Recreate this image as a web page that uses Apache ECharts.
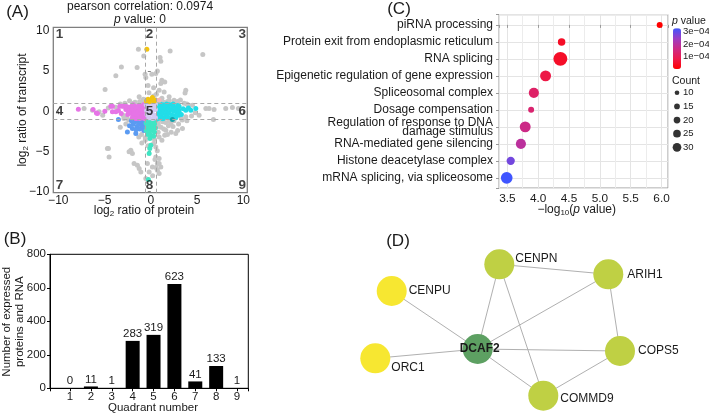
<!DOCTYPE html>
<html><head><meta charset="utf-8">
<script src="https://cdn.jsdelivr.net/npm/echarts@6/dist/echarts.min.js"></script>
<style>html,body{margin:0;padding:0;background:#fff}#c{width:709px;height:415px}</style>
</head><body><div id="c"></div>
<script>
// ---------- Panel A: log2 protein vs log2 transcript ----------
const greyPts = [[-1.34,7.7],[2.09,7.49],[5.62,7.04],[-0.76,6.87],[1.0,6.67],[1.08,6.2],[-3.18,5.5],[-1.48,5.43],[-3.78,4.4],[-0.62,4.6],[-0.54,4.2],[0.11,4.6],[0.71,5.0],[1.19,3.85],[1.08,3.44],[-4.94,2.69],[1.44,2.4],[3.7,2.27],[-1.26,1.78],[0.9,2.6],[1.98,1.78],[0.54,4.68],[1.51,3.64],[3.78,2.6],[2.52,1.37],[-0.3,3.2],[0.3,2.9],[-0.2,2.3],[0.6,2.1],[1.2,1.6],[-0.8,1.5],[-2.3,1.3],[-1.7,1.1],[2.9,1.2],[1.8,1.2],[0.3,1.9],
[-7.21,0.33],[-6.31,0.12],[-5.59,-0.08],[4.5,0.75],[5.95,0.33],[6.84,0.21],[8.82,0.46],[6.3,0.33],[8.1,0.33],[9.47,0.33],[6.77,-1.03],[5.22,-0.5],[3.78,-0.7],[4.8,-0.2],[3.9,0.9],[3.3,-0.9],[-2.6,-0.8],[-3.0,-0.5],[-4.6,0.4],[-5.2,-0.5],
[3.42,-2.15],[2.7,-2.77],[2.16,-1.53],[1.62,-2.36],[0.9,-3.19],[0.54,-5.68],[0.71,-6.5],[1.08,-6.92],[0.9,-7.74],[0.54,-4.43],[0.9,-5.88],[-0.54,-8.36],[-4.51,-5.68],[-2.16,-5.05],[-1.81,-6.5],[-1.26,-7.12],[-4.69,-4.63],[-2.35,-5.05],[-1.45,-6.7],[-1.08,-7.54],[-0.97,-3.94],[-2.16,-4.84],[-1.99,-5.26],[-4.58,-4.64],[0.17,-6.92],[0.71,-7.33],[0.9,-6.5],[-0.18,-7.54],[-0.37,-6.5],[1.3,-1.3],[1.9,-1.8],[2.5,-1.2],[1.1,-2.0],[0.8,-1.5],[3.0,-1.6],[1.5,-3.0],[2.2,-2.6],[0.3,-4.0],[-0.3,-4.3],[0.4,-3.5],[-2.7,-1.6],[-3.3,-2.0],[-1.0,-2.9],[-0.6,-3.3],[-2.9,-0.9],[0.2,-8.0],
[0.6,1.1],[1.0,1.4],[1.4,1.1],[2.0,1.3],[2.6,1.1],[3.2,1.4],[3.6,1.0],[4.0,0.8],[4.4,-0.6],[3.9,-1.2],[3.4,-1.1],[2.0,-1.2],[1.6,-1.4],[1.2,-1.1],[0.9,-1.9],[1.4,-2.2],[2.4,-1.9],[2.9,-2.4],[1.8,-2.9],[1.2,-3.6],[0.8,-2.6],[-1.9,1.0],[-1.2,1.2],[-0.7,1.2],[-2.8,1.0],[-3.3,0.9],[-3.8,0.5],[-2.4,-1.1],[-0.6,-3.6],[-1.3,-3.2],[0.7,-4.9],[0.45,-6.0],[0.55,-7.0]];
const q4Pts = [[-7.83,0.25],[-6.24,0.21],[-5.88,-0.21],[-5.77,-0.29],[-4.97,0],[-4.32,0.62],[-4.15,-0.08],[-3.35,0.62],[-2.89,0.62],[-3.78,-0.08],[-4.15,0.62],[-3.07,0.62],[-3.5,0.1],[-3.2,-0.3],[-2.7,0.2],[-2.5,-0.4],[-2.6,0.6],
[-2.3,0.5],[-2.2,0.1],[-2.1,-0.3],[-2.0,0.7],[-1.9,0.3],[-1.9,-0.6],[-1.8,0.0],[-1.7,0.6],[-1.7,-0.3],[-1.6,0.2],[-1.5,-0.7],[-1.5,0.5],[-1.4,-0.1],[-1.3,0.7],[-1.3,-0.5],[-1.2,0.3],[-1.1,-0.2],[-1.1,0.6],[-1.0,-0.8],[-1.0,0.1],[-0.9,0.5],[-0.9,-0.4],[-0.8,0.8],[-0.8,0.0],[-0.75,-0.6],[-0.7,0.3],[-1.6,-0.9],[-2.0,-0.8],[-1.2,-0.9],[-0.7,-0.9],[-1.9,0.8],[-2.4,-0.1]];
const q6Pts = [[0.7,0.8],[0.7,0.2],[0.75,-0.5],[0.8,-0.9],[0.9,0.5],[0.9,-0.2],[1.0,0.9],[1.0,0.0],[1.1,-0.7],[1.2,0.4],[1.2,-0.3],[1.3,0.8],[1.4,0.1],[1.4,-0.8],[1.5,0.5],[1.6,-0.4],[1.7,0.9],[1.7,0.0],[1.8,-0.7],[1.9,0.4],[2.0,-0.2],[2.0,0.8],[2.1,-0.8],[2.2,0.2],[2.3,-0.5],[2.4,0.6],[2.5,0.0],[2.6,-0.6],[2.7,0.4],[2.8,-0.1],[2.9,0.7],[3.0,-0.5],[3.0,0.2],[1.3,-0.95],[0.9,0.95],[2.4,0.9],[1.6,0.7],[2.7,-0.8],
[3.06,-0.08],[3.78,0.12],[3.06,0.62],[4.07,0.41],[4.86,0.33],[4.32,0.12],[3.5,0.3],[3.3,-0.4]];
const q7Pts = [[-3.5,-1.03],[-2.53,-2.57],[-1.99,-2.15],[-1.62,-2.77],[-2.1,-1.2],[-1.9,-1.6],[-1.7,-1.3],[-1.5,-1.9],[-1.4,-1.2],[-1.3,-1.6],[-1.2,-2.2],[-1.1,-1.4],[-1.0,-1.8],[-0.9,-1.2],[-0.8,-2.0],[-0.7,-1.5],[-1.6,-2.3],[-2.3,-1.8],[-0.75,-2.4]];
const q8Pts = [[-0.5,-1.1],[-0.3,-1.2],[0.0,-1.1],[0.3,-1.2],[0.5,-1.1],[-0.5,-1.5],[-0.2,-1.6],[0.1,-1.5],[0.4,-1.6],[-0.4,-2.0],[-0.1,-2.0],[0.2,-1.9],[0.5,-2.1],[-0.5,-2.4],[-0.2,-2.5],[0.1,-2.4],[0.4,-2.6],[-0.3,-2.9],[0.0,-3.0],[0.3,-3.1],[-0.1,-3.4],[0.0,-4.22],[-0.11,-4.64],[-0.18,-5.26],[-0.26,-8.49]];
const q2Pts = [[-0.43,7.7],[-0.47,1.28],[0.17,1.7],[0.54,1.37],[-0.18,1.16],[0.3,1.2],[0.1,1.4],[-0.3,1.5]];
const q3Pts = [[0.9,1.37]];
const q9Pts = [[2.34,-1.03]];
const q5Pts = [[-0.5,0.8],[-0.3,0.5],[0,0.8],[0.3,0.6],[0.5,0.9],[-0.45,0.1],[-0.1,0.2],[0.2,0.1],[0.5,0.2],[-0.4,-0.4],[0.0,-0.3],[0.4,-0.5],[-0.2,-0.8],[0.2,-0.9],[0.5,-0.8]];
const quadNames = ['1','2','3','4','5','6','7','8','9'];
const cutX = [-0.58, 0.58];
const cutY = [-1, 1];

// ---------- Panel B: counts per quadrant ----------
const quadrants = [1,2,3,4,5,6,7,8,9];
const quadCounts = [0,11,1,283,319,623,41,133,1];

// ---------- Panel C: enrichment ----------
const goTerms = ['piRNA processing','Protein exit from endoplasmic reticulum','RNA splicing','Epigenetic regulation of gene expression','Spliceosomal complex','Dosage compensation','Regulation of response to DNA\ndamage stimulus','RNA-mediated gene silencing','Histone deacetylase complex','mRNA splicing, via spliceosome'];
const goNegLog10P = [5.97,4.38,4.36,4.12,3.93,3.886,3.79,3.72,3.555,3.49];
const goCounts = [11,15,32,24,22,11,24,22,17,26];
const countBreaks = [10,15,20,25,30];
const minorGridX = [3.75,4.25,4.75,5.25,5.75];

// ---------- Panel D: network ----------
const netNodes = [
  {name:'CENPN', x:499.3, y:264.3, role:'partner'},
  {name:'ARIH1', x:608.3, y:274.3, role:'partner'},
  {name:'CENPU', x:391.7, y:291.0, role:'other'},
  {name:'DCAF2', x:477.7, y:349.0, role:'hub'},
  {name:'ORC1',  x:375.3, y:358.3, role:'other'},
  {name:'COPS5', x:620.0, y:351.0, role:'partner'},
  {name:'COMMD9',x:543.3, y:395.7, role:'partner'}
];
const netEdges = [['DCAF2','CENPU'],['DCAF2','ORC1'],['DCAF2','CENPN'],['DCAF2','ARIH1'],['DCAF2','COPS5'],['DCAF2','COMMD9'],['CENPN','ARIH1'],['CENPN','COMMD9'],['ARIH1','COPS5'],['COPS5','COMMD9']];

// ---------- build ----------
const FF = "'Liberation Sans', Arial, Helvetica, sans-serif";
const TXT = '#1a1a1a';
const chart = echarts.init(document.getElementById('c'), null, {renderer:'canvas'});
const minus = s => String(s).replace('-', '\u2212');

const pValues = goNegLog10P.map(v => Math.pow(10, -v));
const pMin = Math.min(...pValues), pMax = Math.max(...pValues);
const dotSize = c => 1.8 + 0.38 * c;
const legendSize = c => 2.7 + 0.2 * c;

const scat = (data, color, extra) => Object.assign({
  type:'scatter', xAxisIndex:0, yAxisIndex:0, data, symbolSize:5,
  itemStyle:{color, opacity:1}, silent:true, animation:false
}, extra || {});

const colX = [-9.88, -0.15, 9.88], rowY = [9.5, 0, -9.25];
const quadLabelData = quadNames.map((n,i) => ({name:n, value:[colX[i%3], rowY[Math.floor(i/3)]]}));

const roleColor = {partner:'#BFD044', other:'#F7E731', hub:'#5DA062'};
const labelCfg = {
  CENPN:{distance:1, offset:[0,-6]},
  ARIH1:{distance:4},
  CENPU:{distance:2},
  COPS5:{distance:3},
  COMMD9:{distance:2, offset:[0,3]},
  ORC1:{distance:1, offset:[0,9]},
  DCAF2:{position:'inside', fontWeight:'bold', offset:[2,0]}
};

const sub = {fontSize:8, lineHeight:8, verticalAlign:'bottom', fontFamily:FF, fill:TXT};
function gtext(x, y, text, size, opt) {
  opt = opt || {};
  const base = {fontSize:size, lineHeight:size+2, fontFamily:FF, fill:TXT};
  return {type:'text', x, y, rotation:opt.rotation||0, z:100, silent:true,
    style:Object.assign({text, fontSize:size, fontFamily:FF, fill:TXT, align:opt.align||'center', verticalAlign:'middle', lineHeight:opt.lineHeight||size+2,
      rich:{a:base, i:Object.assign({}, base, {fontStyle:'italic'}), s:Object.assign({}, sub, {fontSize:Math.round(size*0.7)})}}, opt.style||{})};
}

const intLabel = v => Math.abs(v - Math.round(v)) < 1e-9 ? String(Math.round(v)) : '';
const fiveLabel = v => (Math.abs(v/5 - Math.round(v/5)) < 1e-9) ? minus(Math.round(v)) : '';

const option = {
  animation:false,
  backgroundColor:'#fff',
  textStyle:{fontFamily:FF},
  grid:[
    {left:53.3, top:27.3, width:194, height:165.4, show:true, borderColor:'#7f7f7f', borderWidth:1.3, backgroundColor:'transparent', outerBoundsMode:'none', containLabel:false},
    {left:50, top:254.3, width:198.3, height:134, show:true, borderColor:'#000', borderWidth:1, outerBoundsMode:'none', containLabel:false},
    {left:499, top:14.7, width:169, height:173.3, show:true, borderColor:'#9a9a9a', borderWidth:1, outerBoundsMode:'none', containLabel:false},
    {left:673, top:28.3, width:8, height:40.7, outerBoundsMode:'none', containLabel:false},
    {left:672, top:85.9, width:10, height:68.25, outerBoundsMode:'none', containLabel:false}
  ],
  xAxis:[
    {gridIndex:0, type:'value', min:-10.54, max:10.43, minInterval:5, maxInterval:5, splitLine:{show:false}, axisLine:{show:false},
     axisTick:{show:true, length:3, lineStyle:{color:'#7f7f7f'}}, axisLabel:{fontSize:12, color:TXT, margin:2, formatter:fiveLabel, showMinLabel:true, showMaxLabel:true}},
    {gridIndex:1, type:'value', min:0.04, max:9.54, minInterval:1, maxInterval:1, splitLine:{show:false}, axisLine:{show:true, lineStyle:{color:'#000'}},
     axisTick:{show:true, length:3, lineStyle:{color:'#000'}}, axisLabel:{fontSize:11.5, color:TXT, margin:3, formatter:intLabel}},
    {gridIndex:2, type:'value', min:3.365, max:6.105, minInterval:0.5, maxInterval:0.5, splitLine:{show:true, lineStyle:{color:'#e4e4e4', width:1}}, axisLine:{show:false},
     axisTick:{show:true, length:3, lineStyle:{color:'#9a9a9a'}}, axisLabel:{fontSize:11.8, color:TXT, margin:5,
       formatter:v => Math.abs(v*2 - Math.round(v*2)) < 1e-9 ? v.toFixed(1) : ''}},
    {gridIndex:3, type:'value', min:0, max:1, show:false},
    {gridIndex:4, type:'value', min:-1, max:1, show:false}
  ],
  yAxis:[
    {gridIndex:0, type:'value', min:-10.12, max:10.42, minInterval:5, maxInterval:5, splitLine:{show:false}, axisLine:{show:false},
     axisTick:{show:true, length:3, lineStyle:{color:'#7f7f7f'}}, axisLabel:{fontSize:12, color:TXT, margin:4, formatter:fiveLabel}},
    {gridIndex:1, type:'value', min:0, max:800, interval:200, splitLine:{show:false}, axisLine:{show:true, lineStyle:{color:'#000'}},
     axisTick:{show:true, length:3, lineStyle:{color:'#000'}}, axisLabel:{fontSize:11.5, color:TXT, margin:4}},
    {gridIndex:2, type:'value', min:-0.6, max:9.6, inverse:true, minInterval:1, maxInterval:1, splitLine:{show:true, lineStyle:{color:'#e4e4e4', width:1}}, axisLine:{show:false},
     axisTick:{show:true, length:3, lineStyle:{color:'#9a9a9a'}},
     axisLabel:{fontSize:12, color:TXT, margin:6, lineHeight:9, align:'right',
       formatter:v => (Math.abs(v - Math.round(v)) < 1e-9 && goTerms[Math.round(v)]) ? goTerms[Math.round(v)] : ''}},
    {gridIndex:3, type:'value', position:'right', min:pMin, max:pMax, minInterval:1e-4, maxInterval:1e-4, splitLine:{show:false}, axisLine:{show:false}, axisTick:{show:false},
     axisLabel:{fontSize:9.5, color:TXT, margin:2, formatter:v => { const k = Math.round(v*1e4); return (k>0 && Math.abs(v*1e4 - k) < 1e-6) ? k + 'e\u221204' : ''; }}},
    {gridIndex:4, type:'category', position:'right', inverse:true, data:countBreaks.map(String), axisLine:{show:false}, axisTick:{show:false}, splitLine:{show:false},
     axisLabel:{fontSize:9.5, color:TXT, margin:1}}
  ],
  visualMap:[{
    type:'continuous', seriesIndex:12, dimension:2, min:pMin, max:pMax, calculable:false, hoverLink:false,
    inRange:{color:['#FF0000','#EC1A4C','#CC2A86','#9C3CC4','#3F55FF']},
    left:673, top:28.3, itemWidth:8, itemHeight:40.7, padding:0, orient:'vertical'
  }],
  series:[
    scat(greyPts, '#c6c6c6', {markLine:{silent:true, symbol:'none', animation:false, label:{show:false},
      lineStyle:{color:'#a8a8a8', type:[4,3], width:1},
      data:cutX.map(v=>({xAxis:v})).concat(cutY.map(v=>({yAxis:v})))}}),   //0
    scat(q7Pts, '#5B9BF2'),        //1
    scat(q8Pts, '#3FE6C4'),        //2
    scat(q4Pts, '#E674E6'),        //3
    scat(q6Pts, '#22DDE8'),        //4
    scat(q5Pts, '#D2C9F2'),        //5
    scat(q2Pts, '#F2C30F'),        //6
    scat(q3Pts, '#F4B6B6'),        //7
    scat(q9Pts, '#14A5AD'),        //8
    {type:'scatter', xAxisIndex:0, yAxisIndex:0, data:quadLabelData, symbolSize:0, silent:true, z:10,
     label:{show:true, position:'inside', formatter:p=>p.name, fontSize:13.5, fontWeight:'bold', color:'#111', fontFamily:FF}}, //9
    {type:'bar', xAxisIndex:1, yAxisIndex:1, data:quadrants.map((q,i)=>[q, quadCounts[i]]), barWidth:14, itemStyle:{color:'#000'}, silent:true,
     label:{show:true, position:'top', distance:1, formatter:p=>p.value[1], fontSize:11.5, color:TXT, fontFamily:FF}}, //10
    {type:'scatter', xAxisIndex:2, yAxisIndex:2, data:[], silent:true, z:1,
     markLine:{silent:true, symbol:'none', animation:false, label:{show:false}, lineStyle:{color:'#ececec', type:'solid', width:1}, data:minorGridX.map(v=>({xAxis:v}))}}, //11
    {type:'scatter', xAxisIndex:2, yAxisIndex:2, z:5, silent:true,
     data:goNegLog10P.map((x,i)=>[x, i, pValues[i], goCounts[i]]), symbolSize:d=>dotSize(d[3]), itemStyle:{opacity:1}}, //12
    {type:'scatter', xAxisIndex:4, yAxisIndex:4, silent:true, data:countBreaks.map((c,i)=>[0, i, c]), symbolSize:d=>legendSize(d[2]), itemStyle:{color:'#000'}}, //13
    {type:'graph', layout:'none', left:375.3, top:264.3, width:244.7, height:131.4, roam:false, silent:true, symbolSize:30,
     data:netNodes.map(n => ({name:n.name, x:n.x, y:n.y, itemStyle:{color:roleColor[n.role]},
       label:Object.assign({show:true, position:'right', fontSize:12, color:TXT, fontFamily:FF}, labelCfg[n.name]||{})})),
     links:netEdges.map(e=>({source:e[0], target:e[1]})),
     lineStyle:{color:'#b0b0b0', width:1, opacity:1, curveness:0}, emphasis:{disabled:true}} //14
  ],
  graphic:[
    gtext(17.5, 12.5, '(A)', 17),
    gtext(15, 239.5, '(B)', 17),
    gtext(399, 9, '(C)', 17),
    gtext(398, 241.7, '(D)', 17),
    gtext(140, 7, 'pearson correlation: 0.0974', 12),
    gtext(140, 20, '{i|p}{a| value: 0}', 12),
    gtext(144, 211, '{a|log}{s|2}{a| ratio of protein}', 12),
    gtext(23, 110, '{a|log}{s|2}{a| ratio of transcript}', 12, {rotation:Math.PI/2}),
    gtext(153, 408.3, 'Quadrant number', 11.5),
    gtext(13, 321.7, 'Number of expressed\nproteins and RNA', 11.5, {rotation:Math.PI/2, lineHeight:13}),
    gtext(576.7, 210, '{a|\u2212log}{s|10}{a|(}{i|p}{a| value)}', 12),
    gtext(672, 21, '{i|p}{a| value}', 10.5, {align:'left'}),
    gtext(672, 80.7, 'Count', 10.5, {align:'left'})
  ]
};
chart.setOption(option);
</script></body></html>
